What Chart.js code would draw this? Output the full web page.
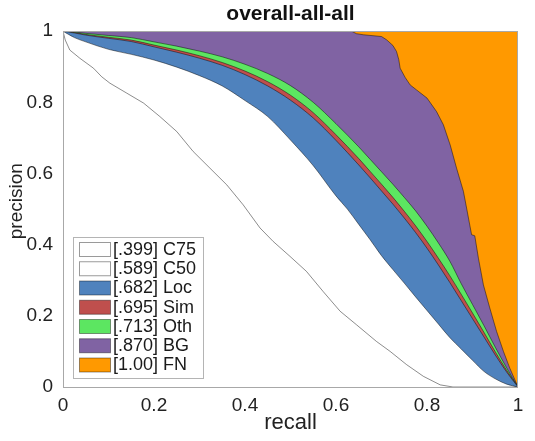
<!DOCTYPE html>
<html>
<head>
<meta charset="utf-8">
<script src="https://cdn.jsdelivr.net/npm/chart.js@4.4.1/dist/chart.umd.min.js"></script>
<style>
  html, body { margin: 0; padding: 0; background: #ffffff; }
  #wrap { width: 535px; height: 441px; }
</style>
</head>
<body>
<div id="wrap"><canvas id="c" width="535" height="441"></canvas></div>
<script>
// ---- data ----
const labels = ['[.399] C75', '[.589] C50', '[.682] Loc', '[.695] Sim', '[.713] Oth', '[.870] BG', '[1.00] FN'];

const recall = [0, 0.025, 0.05, 0.1, 0.15, 0.2, 0.25, 0.3, 0.35, 0.4, 0.45, 0.5, 0.55, 0.6, 0.625, 0.65, 0.675, 0.7, 0.725, 0.75, 0.775, 0.8, 0.825, 0.85, 0.875, 0.9, 0.925, 0.95, 0.975, 1];
const c50 = [1, 0.982, 0.970, 0.949, 0.935, 0.919, 0.899, 0.875, 0.846, 0.805, 0.760, 0.694, 0.622, 0.537, 0.500, 0.457, 0.414, 0.369, 0.330, 0.292, 0.253, 0.215, 0.177, 0.139, 0.107, 0.075, 0.044, 0.023, 0.008, 0];
const loc = [1, 0.995, 0.989, 0.980, 0.971, 0.956, 0.941, 0.924, 0.904, 0.878, 0.846, 0.806, 0.756, 0.693, 0.659, 0.624, 0.588, 0.551, 0.514, 0.475, 0.434, 0.390, 0.343, 0.294, 0.243, 0.192, 0.141, 0.090, 0.042, 0];
const sim = [1, 0.996, 0.991, 0.983, 0.975, 0.961, 0.947, 0.931, 0.912, 0.888, 0.858, 0.820, 0.771, 0.709, 0.676, 0.642, 0.606, 0.570, 0.533, 0.494, 0.453, 0.409, 0.362, 0.313, 0.261, 0.208, 0.154, 0.099, 0.047, 0];
const oth = [1, 0.998, 0.994, 0.988, 0.982, 0.970, 0.958, 0.944, 0.928, 0.907, 0.881, 0.847, 0.800, 0.740, 0.708, 0.675, 0.640, 0.605, 0.570, 0.533, 0.495, 0.452, 0.405, 0.354, 0.291, 0.232, 0.173, 0.112, 0.054, 0];

const c75Recall = [0, 0.005, 0.015, 0.037, 0.067, 0.085, 0.103, 0.14, 0.177, 0.213, 0.25, 0.286, 0.323, 0.36, 0.396, 0.433, 0.462, 0.499, 0.535, 0.572, 0.609, 0.645, 0.689, 0.719, 0.755, 0.792, 0.829, 0.857, 1];
const c75 = [1, 0.975, 0.947, 0.924, 0.896, 0.872, 0.854, 0.826, 0.798, 0.76, 0.718, 0.662, 0.615, 0.568, 0.512, 0.447, 0.409, 0.367, 0.325, 0.268, 0.213, 0.175, 0.128, 0.10, 0.063, 0.03, 0.006, 0, 0];

const bgRecall = [0, 0.634, 0.645, 0.66, 0.70, 0.711, 0.725, 0.733, 0.738, 0.741, 0.752, 0.763, 0.777, 0.8, 0.821, 0.836, 0.851, 0.865, 0.88, 0.887, 0.898, 0.905, 0.913, 0.924, 0.938, 0.953, 0.968, 0.982, 1];
const bg = [1, 1, 0.993, 0.99, 0.985, 0.976, 0.96, 0.943, 0.92, 0.896, 0.87, 0.849, 0.835, 0.812, 0.774, 0.737, 0.68, 0.615, 0.55, 0.503, 0.428, 0.425, 0.362, 0.287, 0.222, 0.156, 0.1, 0.053, 0];

const fnRecall = [0, 1];
const fn = [1, 1];

const xTicks = [0, 0.2, 0.4, 0.6, 0.8, 1];
const yTicks = [0, 0.2, 0.4, 0.6, 0.8, 1];
const tickText = ['0', '0.2', '0.4', '0.6', '0.8', '1'];

const fillColors = ['#ffffff', '#ffffff', 'rgb(79,130,189)', 'rgb(191,79,77)', 'rgb(92,230,97)', 'rgb(128,99,163)', 'rgb(255,153,0)'];
const smooth = [false, true, true, true, true, false, false];

// ---- build datasets ----
function pts(xs, ys) { return xs.map((x, i) => ({ x: x, y: ys[i] })); }
const seriesX = [c75Recall, recall, recall, recall, recall, bgRecall, fnRecall];
const seriesY = [c75, c50, loc, sim, oth, bg, fn];

const datasets = labels.map((lab, i) => ({
  label: lab,
  data: pts(seriesX[i], seriesY[i]),
  backgroundColor: fillColors[i],
  borderColor: 'rgba(0,0,0,0.45)',
  borderWidth: 1,
  pointRadius: 0,
  tension: 0,
  cubicInterpolationMode: smooth[i] ? 'monotone' : 'default',
  fill: 'origin'
}));

const FONT = '"Liberation Sans", Arial, Helvetica, sans-serif';

const frame = {
  id: 'frame',
  afterDatasetsDraw(chart) {
    const a = chart.chartArea, ctx = chart.ctx;
    ctx.save();
    ctx.strokeStyle = '#a8a8a8';
    ctx.lineWidth = 1;
    ctx.strokeRect(Math.round(a.left) + 0.5, Math.round(a.top) + 0.5, Math.round(a.right - a.left) - 1, Math.round(a.bottom - a.top));
    ctx.restore();
  }
};

const boxLegend = {
  id: 'boxLegend',
  afterDraw(chart) {
    const ctx = chart.ctx, a = chart.chartArea;
    const bx = Math.round(a.left) + 10.5, by = Math.round(a.top) + 206.5, bw = 130, bh = 141;
    const rowH = 19.25;
    ctx.save();
    ctx.fillStyle = '#ffffff';
    ctx.fillRect(bx, by, bw, bh);
    ctx.strokeStyle = '#b4b4b4';
    ctx.lineWidth = 1;
    ctx.strokeRect(bx, by, bw, bh);
    ctx.font = '18px ' + FONT;
    ctx.textBaseline = 'middle';
    ctx.textAlign = 'left';
    chart.data.datasets.forEach((ds, i) => {
      const cy = by + 12 + i * rowH;
      ctx.fillStyle = ds.backgroundColor;
      ctx.fillRect(bx + 6, cy - 7, 31, 14);
      ctx.strokeStyle = i < 2 ? '#9a9a9a' : 'rgba(0,0,0,0.4)';
      ctx.strokeRect(bx + 6, cy - 7, 31, 14);
      ctx.fillStyle = '#1a1a1a';
      ctx.fillText(ds.label, bx + 39.5, cy + 0.5);
    });
    ctx.restore();
  }
};

function fmt(v) {
  const i = xTicks.indexOf(v);
  return i >= 0 ? tickText[i] : String(v);
}

new Chart(document.getElementById('c'), {
  type: 'line',
  data: { datasets: datasets },
  plugins: [frame, boxLegend],
  options: {
    responsive: false,
    animation: false,
    devicePixelRatio: 1,
    layout: { padding: { left: 0, right: 17, top: 0, bottom: 0 } },
    plugins: {
      legend: { display: false },
      tooltip: { enabled: false },
      title: {
        display: true,
        text: 'overall-all-all',
        fullSize: false,
        color: '#111',
        font: { family: FONT, size: 21, weight: 'bold', lineHeight: 1.2 },
        padding: { top: 2, bottom: 4 }
      }
    },
    scales: {
      x: {
        type: 'linear', min: 0, max: 1,
        afterFit(s) { s.height = 54; },
        afterBuildTicks(s) { s.ticks = xTicks.map(v => ({ value: v })); },
        grid: { display: false, drawTicks: false },
        border: { display: false },
        ticks: { color: '#222', padding: 7, maxRotation: 0, callback: fmt, font: { family: FONT, size: 19 } },
        title: { display: true, text: 'recall', color: '#222', font: { family: FONT, size: 22, lineHeight: 1.2 }, padding: { top: 0, bottom: 5 } }
      },
      y: {
        type: 'linear', min: 0, max: 1,
        afterFit(s) { s.width = 63; },
        afterBuildTicks(s) { s.ticks = yTicks.map(v => ({ value: v })); },
        grid: { display: false, drawTicks: false },
        border: { display: false },
        ticks: { color: '#222', padding: 10, callback: fmt, font: { family: FONT, size: 19 } },
        title: { display: true, text: '   precision', color: '#222', font: { family: FONT, size: 19, lineHeight: 1.2 }, padding: { top: 5, bottom: 0 } }
      }
    }
  }
});
</script>
</body>
</html>
